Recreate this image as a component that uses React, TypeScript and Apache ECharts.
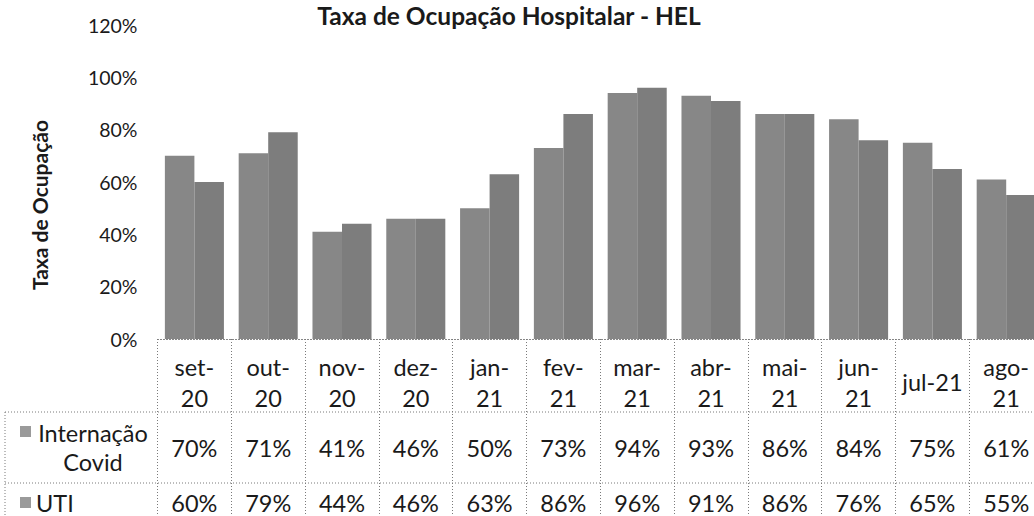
import React, { useEffect, useRef } from 'react';
import * as echarts from 'echarts';

const categories = ['set-20', 'out-20', 'nov-20', 'dez-20', 'jan-21', 'fev-21', 'mar-21', 'abr-21', 'mai-21', 'jun-21', 'jul-21', 'ago-21'];
const headerLabels = ['set-\n20', 'out-\n20', 'nov-\n20', 'dez-\n20', 'jan-\n21', 'fev-\n21', 'mar-\n21', 'abr-\n21', 'mai-\n21', 'jun-\n21', 'jul-21', 'ago-\n21'];
const internacao = [70, 71, 41, 46, 50, 73, 94, 93, 86, 84, 75, 61];
const uti = [60, 79, 44, 46, 63, 86, 96, 91, 86, 76, 65, 55];
const seriesNames = ['Internação Covid', 'UTI'];
const rowHeaderLabels = ['Internação\nCovid', 'UTI'];
const yMin = 0;
const yMax = 120;
const yStep = 20;
const titleText = 'Taxa de Ocupação Hospitalar - HEL';
const yAxisTitle = 'Taxa de Ocupação';

export default function App() {
  const ref = useRef<HTMLDivElement>(null);
  useEffect(() => {
    const chart = echarts.init(ref.current!, null, { renderer: 'svg' });
    const FONT = 'Lato, "Open Sans", sans-serif';
    const TXT = '#1a1a1a';
    const LINE = '#7a7a7a';
    const gridLeft = 157.5;
    const gridTop = 25;
    const gridH = 314;
    const gridW = 885.6;
    const dotted = { color: LINE, width: 1, type: [1, 2] as any };
    const tableFont = 23.5;

    chart.setOption({
      animation: false,
      grid: { left: gridLeft, top: gridTop, width: gridW, height: gridH },
      xAxis: [
        {
          type: 'category',
          data: categories,
          position: 'bottom',
          offset: 13,
          axisLine: { show: true, lineStyle: dotted },
          axisTick: { show: true, length: 200, interval: 0, lineStyle: dotted },
          axisLabel: {
            interval: 0,
            formatter: (_v: string, i: number) => headerLabels[i],
            fontSize: tableFont,
            lineHeight: 31,
            color: TXT,
            fontFamily: FONT,
            margin: 30,
            verticalAlign: 'middle',
          },
        },
        {
          type: 'category',
          data: categories,
          position: 'bottom',
          offset: 13,
          axisLine: { show: false },
          axisTick: { show: false },
          axisLabel: {
            interval: 0,
            formatter: (_v: string, i: number) => internacao[i] + '%',
            fontSize: tableFont,
            color: TXT,
            fontFamily: FONT,
            margin: 95.5,
            verticalAlign: 'middle',
          },
        },
        {
          type: 'category',
          data: categories,
          position: 'bottom',
          offset: 13,
          axisLine: { show: false },
          axisTick: { show: false },
          axisLabel: {
            interval: 0,
            formatter: (_v: string, i: number) => uti[i] + '%',
            fontSize: tableFont,
            color: TXT,
            fontFamily: FONT,
            margin: 151,
            verticalAlign: 'middle',
          },
        },
      ],
      yAxis: {
        type: 'value',
        min: yMin,
        max: yMax,
        interval: yStep,
        axisLine: { show: false },
        axisTick: { show: false },
        splitLine: { show: false },
        axisLabel: { formatter: '{value}%', fontSize: 19.5, color: TXT, fontFamily: FONT, margin: 20 },
      },
      series: [
        {
          name: seriesNames[0],
          type: 'bar',
          data: internacao,
          xAxisIndex: 0,
          barGap: '0%',
          barCategoryGap: '20%',
          itemStyle: { color: '#878787' },
        },
        {
          name: seriesNames[1],
          type: 'bar',
          data: uti,
          xAxisIndex: 0,
          barGap: '0%',
          barCategoryGap: '20%',
          itemStyle: { color: '#7d7d7d' },
        },
      ],
      graphic: [
        {
          type: 'text',
          x: 509,
          y: 3,
          style: { text: titleText, fill: TXT, font: `bold 24.5px ${FONT}`, align: 'center', verticalAlign: 'top' },
        },
        {
          type: 'text',
          x: 39,
          y: 205,
          rotation: Math.PI / 2,
          style: { text: yAxisTitle, fill: TXT, font: `bold 21px ${FONT}`, align: 'center', verticalAlign: 'middle' },
        },
        { type: 'line', shape: { x1: 5, y1: 412, x2: 1060, y2: 412 }, style: { stroke: LINE, lineWidth: 1, lineDash: [1, 2] } },
        { type: 'line', shape: { x1: 5, y1: 483, x2: 1060, y2: 483 }, style: { stroke: LINE, lineWidth: 1, lineDash: [1, 2] } },
        { type: 'line', shape: { x1: 5, y1: 412, x2: 5, y2: 520 }, style: { stroke: LINE, lineWidth: 1, lineDash: [1, 2] } },
        { type: 'rect', shape: { x: 20, y: 426, width: 11, height: 11 }, style: { fill: '#9a9a9a' } },
        { type: 'rect', shape: { x: 20, y: 497, width: 11, height: 11 }, style: { fill: '#9a9a9a' } },
        {
          type: 'text',
          x: 93,
          y: 447,
          style: { text: rowHeaderLabels[0], fill: TXT, font: `${tableFont}px ${FONT}`, align: 'center', verticalAlign: 'middle', lineHeight: 29 },
        },
        {
          type: 'text',
          x: 36,
          y: 503,
          style: { text: rowHeaderLabels[1], fill: TXT, font: `${tableFont}px ${FONT}`, align: 'left', verticalAlign: 'middle' },
        },
      ],
    });
    return () => chart.dispose();
  }, []);
  return (
    <div style={{ position: 'fixed', left: 0, top: 0, width: 1034, height: 516, overflow: 'hidden', background: '#fff' }}>
      <div ref={ref} style={{ width: 1060, height: 516 }} />
    </div>
  );
}
